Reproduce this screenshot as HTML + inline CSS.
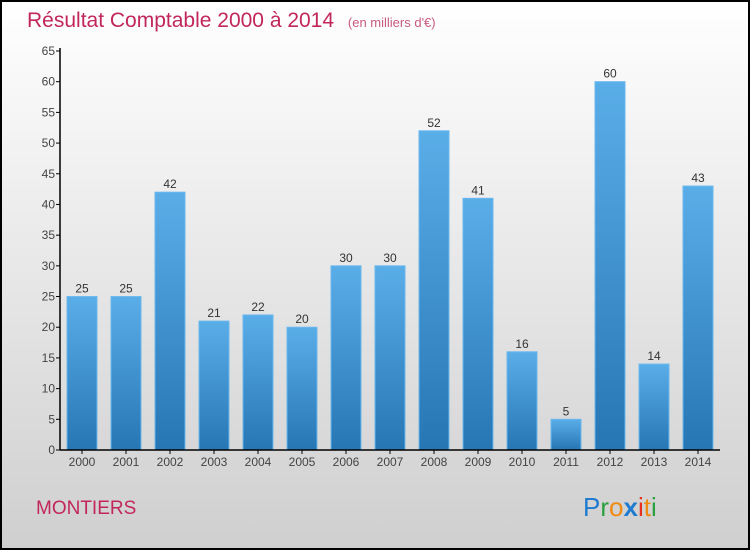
<!DOCTYPE html>
<html><head><meta charset="utf-8"><style>
body{margin:0;width:750px;height:550px;overflow:hidden}
svg{display:block;font-family:"Liberation Sans",sans-serif}
</style></head><body>
<svg id="c" width="750" height="550">
<defs>
<linearGradient id="bg" x1="0" y1="0" x2="0" y2="1"><stop offset="0" stop-color="#ffffff"/><stop offset="1" stop-color="#cfcfcf"/></linearGradient>
<linearGradient id="bar" x1="0" y1="0" x2="0" y2="1"><stop offset="0" stop-color="#5aaee8"/><stop offset="1" stop-color="#2676b4"/></linearGradient>
</defs>
<rect x="1" y="1" width="748" height="548" fill="url(#bg)" stroke="#000" stroke-width="2"/>
<text x="27" y="27" font-size="21" fill="#c2275a">Résultat Comptable 2000 à 2014 <tspan font-size="13" dx="8" fill="#c85a80">(en milliers d'€)</tspan></text>
<text x="36" y="514" font-size="19" fill="#c2275a">MONTIERS</text>
<g font-size="26" font-family="Liberation Sans,sans-serif">
<text x="583" y="516"><tspan fill="#1e7bd0">P</tspan><tspan fill="#2aa040">r</tspan><tspan fill="#f08a10">o</tspan><tspan fill="#1e7bd0" font-weight="bold">x</tspan><tspan fill="#e83020">i</tspan><tspan fill="#f08a10">t</tspan><tspan fill="#2aa040">i</tspan></text>
</g>
<g id="plot"></g>
</svg>
<script>
const categories=["2000","2001","2002","2003","2004","2005","2006","2007","2008","2009","2010","2011","2012","2013","2014"];
const values=[25,25,42,21,22,20,30,30,52,41,16,5,60,14,43];
const yTicks=[0,5,10,15,20,25,30,35,40,45,50,55,60,65];
const NS="http://www.w3.org/2000/svg";
const g=document.getElementById('plot');
const y0=450,yTop=51,yMax=65;
const y=v=>y0-(v/yMax)*(y0-yTop);
const x=i=>82+i*44;
function mk(t,a,txt){const e=document.createElementNS(NS,t);for(const k in a)e.setAttribute(k,a[k]);if(txt!=null)e.textContent=txt;g.appendChild(e);return e;}
yTicks.forEach(v=>{
 const l=mk('line',{x1:56,x2:60,y1:y(v),y2:y(v),stroke:'#000'});
 
 
 const t=mk('text',{x:55,y:y(v)+4,'text-anchor':'end','font-size':12,fill:'#444'},v);
 
 
});
categories.forEach((c,i)=>{
 const v=values[i];
 const r=mk('rect',{x:x(i)-15,y:y(v),width:30,height:y0-y(v),fill:'url(#bar)',stroke:'#6ab8ee','stroke-width':1});
 
 
 const vl=mk('text',{x:x(i),y:y(v)-4,'text-anchor':'middle','font-size':12,fill:'#333'},v);
 
 
 const tk=mk('line',{x1:x(i),x2:x(i),y1:y0,y2:y0+4,stroke:'#000'});
 
 
 const xl=mk('text',{x:x(i),y:466,'text-anchor':'middle','font-size':12,fill:'#444'},c);
 
 
});
const ya=mk('line',{x1:60,x2:60,y1:yTop-3,y2:y0,stroke:'#000','stroke-width':1.5});


const xa=mk('line',{x1:60,x2:720,y1:y0,y2:y0,stroke:'#000','stroke-width':1.5});


</script>
</body></html>
